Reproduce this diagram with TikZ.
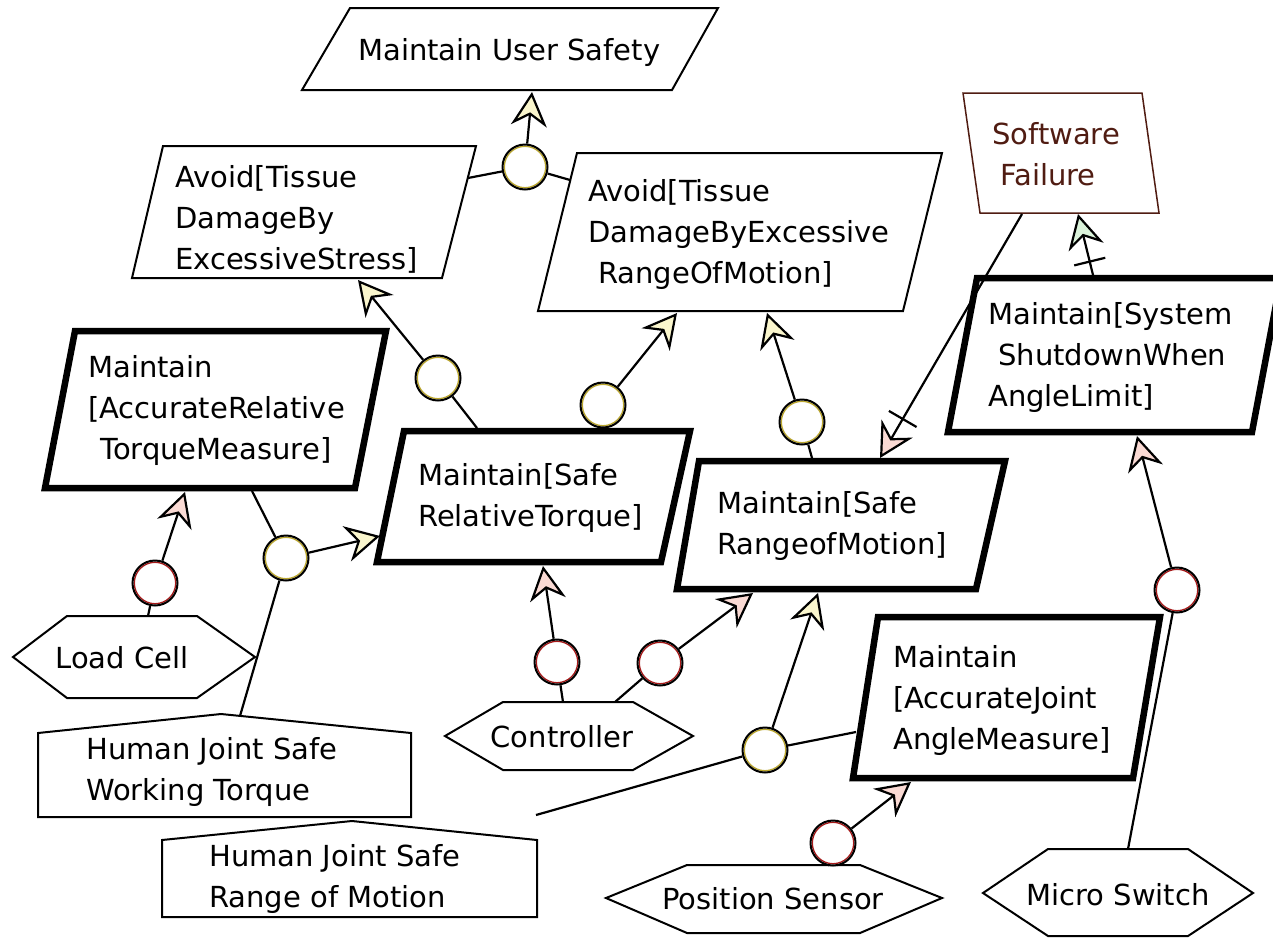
\documentclass[tikz,border=0pt]{standalone}
\usepackage{fontspec}
\setmainfont{DejaVu Sans}
\usetikzlibrary{arrows.meta,decorations.markings}
\definecolor{yfill}{RGB}{250,246,205}
\definecolor{rfill}{RGB}{250,218,212}
\definecolor{gfill}{RGB}{218,242,218}
\definecolor{yring}{RGB}{185,165,45}
\definecolor{rring}{RGB}{165,25,25}
\definecolor{sfcol}{RGB}{80,28,18}
\begin{document}
\begin{tikzpicture}[x=1pt,y=-1pt,
  txt/.style={font=\fontsize{29}{41}\selectfont, inner sep=0pt, anchor=base west, align=left},
  ctxt/.style={font=\fontsize{29}{41}\selectfont, inner sep=0pt, anchor=base},
  thinbox/.style={draw=black, line width=2pt, fill=white, line join=miter},
  thickbox/.style={draw=black, line width=6.5pt, fill=white, line join=miter},
  andc/.style={circle, draw=black, line width=2pt, fill=white, minimum size=45pt, inner sep=0pt,
    path picture={\draw[#1, line width=1.3pt] (path picture bounding box.center) circle[radius=20.7pt];}},
  lnk/.style={draw=black, line width=2.2pt},
  yarr/.style={lnk, -{Stealth[length=34pt, width=36pt, inset=11pt, fill=yfill]}},
  rarr/.style={lnk, -{Stealth[length=34pt, width=36pt, inset=11pt, fill=rfill]}},
  garr/.style={lnk, -{Stealth[length=34pt, width=36pt, inset=11pt, fill=gfill]}},
  crossmark/.style={postaction={decorate, decoration={markings,
    mark=at position #1 with {\draw[-, line width=2.2pt] (0pt,-16pt) -- (0pt,16pt);}}}}
]
\fill[white] (0,0) rectangle (1273,938);
\useasboundingbox (0,0) rectangle (1273,938);

% ---------- goals ----------
\draw[thinbox] (350,8) -- (718,8) -- (672,90) -- (302,90) -- cycle;
\node[txt] (mus) at (358,60) {Maintain User Safety};

\draw[thinbox] (163,146) -- (476,146) -- (442,278) -- (132,278) -- cycle;
\node[txt] (as) at (175,269) {Avoid[Tissue\\DamageBy\\ExcessiveStress]};

\draw[thinbox] (577,153) -- (942,153) -- (903,311) -- (538,311) -- cycle;
\node[txt] (arom) at (588,283) {Avoid[Tissue\\DamageByExcessive\\\hspace*{10pt}RangeOfMotion]};

\draw[draw=sfcol, line width=1.5pt, fill=white, line join=miter] (963,93) -- (1142,93) -- (1159,213) -- (980,213) -- cycle;
\node[txt, text=sfcol] (sf) at (992,185) {Software\\\hspace*{8pt}Failure};

\draw[thickbox] (977,278) -- (1281,278) -- (1252,432) -- (948,432) -- cycle;
\node[txt] (sys) at (988,406) {Maintain[System\\\hspace*{10pt}ShutdownWhen\\AngleLimit]};

\draw[thickbox] (75,331) -- (386,331) -- (355,488) -- (45,488) -- cycle;
\node[txt] (art) at (88,459) {Maintain\\{[}AccurateRelative\\\hspace*{12pt}TorqueMeasure]};

\draw[thickbox] (404,431) -- (690,431) -- (661,562) -- (377,562) -- cycle;
\node[txt] (srt) at (418,526) {Maintain[Safe\\RelativeTorque]};

\draw[thickbox] (699,461) -- (1005,461) -- (976,589) -- (677,589) -- cycle;
\node[txt] (srom) at (717,554) {Maintain[Safe\\RangeofMotion]};

\draw[thickbox] (878,617) -- (1160,617) -- (1133,778) -- (853,778) -- cycle;
\node[txt] (aj) at (893,749) {Maintain\\{[}AccurateJoint\\AngleMeasure]};

% ---------- agents ----------
\draw[thinbox] (13,657) -- (67,616) -- (197,616) -- (255,657) -- (197,698) -- (67,698) -- cycle;
\node[ctxt] (lc) at (122,668) {Load Cell};
\draw[thinbox] (445,736) -- (503,702) -- (633,702) -- (693,736) -- (633,770) -- (503,770) -- cycle;
\node[ctxt] (ctl) at (562,747) {Controller};
\draw[thinbox] (606,898) -- (687,865) -- (860,865) -- (942,898) -- (860,933) -- (687,933) -- cycle;
\node[ctxt] (ps) at (773,909) {Position Sensor};
\draw[thinbox] (983,893) -- (1048,849) -- (1188,849) -- (1253,893) -- (1188,936) -- (1048,936) -- cycle;
\node[ctxt] (msw) at (1118,905) {Micro Switch};

% ---------- domain properties ----------
\draw[thinbox] (38,733) -- (221,714) -- (411,733) -- (411,817) -- (38,817) -- cycle;
\node[txt] (hwt) at (86,800) {Human Joint Safe\\Working Torque};
\draw[thinbox] (162,840) -- (352,821) -- (537,840) -- (537,917) -- (162,917) -- cycle;
\node[txt] (hrom) at (209,907) {Human Joint Safe\\Range of Motion};

% ---------- attachment points ----------
\coordinate (mus-b) at (532,92);
\coordinate (as-r) at (468,178);
\coordinate (as-b) at (358,280);
\coordinate (arom-l) at (570,180);
\coordinate (arom-b1) at (677,313);
\coordinate (arom-b2) at (767,313);
\coordinate (srt-t1) at (477,428);
\coordinate (srt-t2) at (600,428);
\coordinate (srt-l) at (380,536);
\coordinate (srt-b) at (543,566);
\coordinate (art-b1) at (185,492);
\coordinate (art-b2) at (252,491);
\coordinate (srom-t1) at (812,458);
\coordinate (srom-t2) at (880,458);
\coordinate (srom-b1) at (753,593);
\coordinate (srom-b2) at (818,593);
\coordinate (aj-l) at (856,732);
\coordinate (aj-b) at (911,782);
\coordinate (sys-t) at (1093,275);
\coordinate (sys-b) at (1137,436);
\coordinate (sf-b1) at (1022,214);
\coordinate (sf-b2) at (1078,214);
\coordinate (lc-t) at (148,616);
\coordinate (ctl-t1) at (563,702);
\coordinate (ctl-t2) at (615,702);
\coordinate (ps-t) at (828,865);
\coordinate (msw-t) at (1128,849);
\coordinate (hwt-t) at (240,716);
\coordinate (hrom-e) at (536,815);

% ---------- refinement / responsibility nodes ----------
\node[andc=yring] (c1) at (525,167) {};
\node[andc=yring] (c2) at (438,378) {};
\node[andc=yring] (c3) at (603,405) {};
\node[andc=yring] (c4) at (802,422) {};
\node[andc=yring] (c5) at (286,558) {};
\node[andc=rring] (c6) at (155,583) {};
\node[andc=rring] (c7) at (557,662) {};
\node[andc=rring] (c8) at (660,663) {};
\node[andc=yring] (c9) at (765,750) {};
\node[andc=rring] (c10) at (833,843) {};
\node[andc=rring] (c11) at (1177,590) {};

% ---------- links ----------
\draw[yarr] (c1) -- (mus-b);
\draw[lnk] (c1) -- (as-r);
\draw[lnk] (c1) -- (arom-l);

\draw[yarr] (c2) -- (as-b);
\draw[lnk] (c2) -- (srt-t1);

\draw[yarr] (c3) -- (arom-b1);
\draw[lnk] (c3) -- (srt-t2);

\draw[yarr] (c4) -- (arom-b2);
\draw[lnk] (c4) -- (srom-t1);

\draw[yarr] (c5) -- (srt-l);
\draw[lnk] (c5) -- (art-b2);
\draw[lnk] (c5) -- (hwt-t);

\draw[rarr] (c6) -- (art-b1);
\draw[lnk] (c6) -- (lc-t);

\draw[rarr] (c7) -- (srt-b);
\draw[lnk] (c7) -- (ctl-t1);

\draw[rarr] (c8) -- (srom-b1);
\draw[lnk] (c8) -- (ctl-t2);

\draw[yarr] (c9) -- (srom-b2);
\draw[lnk] (c9) -- (aj-l);
\draw[lnk] (c9) -- (hrom-e);

\draw[rarr] (c10) -- (aj-b);
\draw[lnk] (c10) -- (ps-t);

\draw[rarr] (c11) -- (sys-b);
\draw[lnk] (c11) -- (msw-t);

\draw[rarr, crossmark=0.84] (sf-b1) -- (srom-t2);
\draw[garr, crossmark=0.22] (sys-t) -- (sf-b2);
\end{tikzpicture}
\end{document}
